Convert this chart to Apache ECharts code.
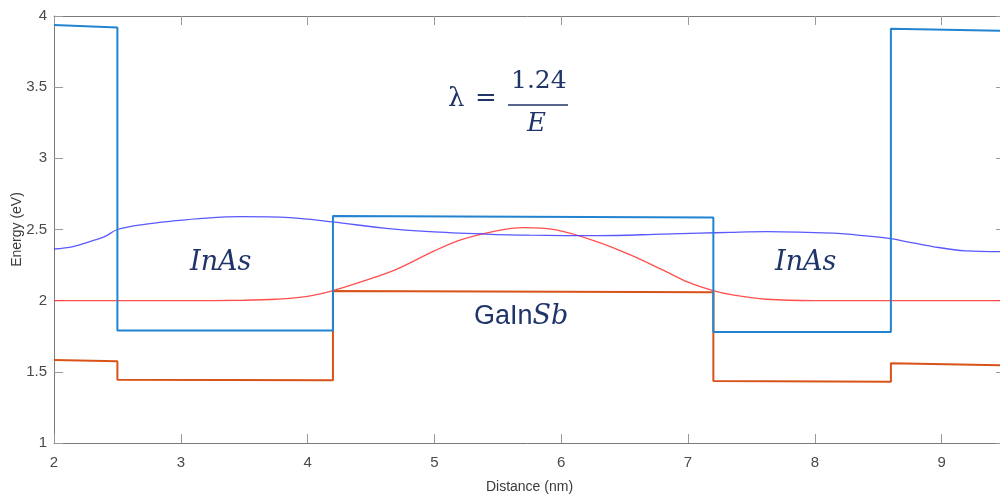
<!DOCTYPE html>
<html lang="en">
<head>
    <meta charset="UTF-8">
    <title>Band diagram</title>
    <style>
        * {
            margin: 0;
            padding: 0;
            box-sizing: border-box;
        }

        html, body {
            width: 1000px;
            height: 500px;
            background: #ffffff;
            overflow: hidden;
        }

        #chart {
            width: 1000px;
            height: 500px;
        }
    </style>
    <script type="text/javascript" src="https://cdn.jsdelivr.net/npm/echarts@6/dist/echarts.min.js"></script>
</head>
<body>
<div id="chart"></div>
<script type="text/javascript">
    // conduction band edge (blue step line)
    var cbX = [2, 2.5, 2.5, 4.2, 4.2, 7.2, 7.2, 8.6, 8.6, 9.5]
    var cbY = [3.937, 3.92, 1.79, 1.79, 2.595, 2.585, 1.78, 1.78, 3.91, 3.895]

    // valence band edge (orange step line)
    var vbX = [2, 2.5, 2.5, 4.2, 4.2, 7.2, 7.2, 8.6, 8.6, 9.5]
    var vbY = [1.583, 1.575, 1.445, 1.44, 2.068, 2.06, 1.435, 1.43, 1.56, 1.545]

    // hole state (red)
    var holeX = [2, 3, 3.5, 3.75, 4, 4.2, 4.45, 4.7, 5, 5.22, 5.49, 5.7, 5.96, 6.28, 6.55, 6.8, 7, 7.2, 7.35, 7.62, 8, 9.5]
    var holeY = [2, 2, 2.003, 2.01, 2.03, 2.07, 2.14, 2.22, 2.35, 2.43, 2.49, 2.513, 2.497, 2.415, 2.32, 2.216, 2.13, 2.07, 2.04, 2.01, 2, 2]

    // electron state (purple)
    var elecX = [2, 2.15, 2.3, 2.4, 2.5, 2.7, 2.94, 3.2, 3.47, 3.86, 4.2, 4.6, 4.96, 5.4, 5.75, 6.28, 6.8, 7.09, 7.33, 7.62, 8.14, 8.4, 8.61, 8.75, 8.93, 9.19, 9.5]
    var elecY = [2.363, 2.38, 2.42, 2.45, 2.5, 2.535, 2.56, 2.58, 2.59, 2.583, 2.553, 2.51, 2.485, 2.468, 2.46, 2.457, 2.467, 2.474, 2.48, 2.485, 2.474, 2.455, 2.434, 2.41, 2.38, 2.35, 2.344]

    var xTicks = [2, 3, 4, 5, 6, 7, 8, 9]

    function pairs(xs, ys) {
        var out = []
        xs.forEach(function (_x, i) {
            out.push([_x, ys[i]])
        })
        return out
    }

    var axisFont = '"Liberation Sans Narrow", "Liberation Sans", Arial, sans-serif'
    var navy = '#1f3468'

    var tickStyle = {
        show: true,
        inside: true,
        length: 9,
        lineStyle: {color: '#9a9a9a', width: 1}
    }

    var myChart = echarts.init(document.getElementById('chart'), null, {renderer: 'canvas'})
    var option = {
        animation: false,
        backgroundColor: '#ffffff',
        grid: {
            left: 54,
            top: 16,
            width: 951,
            height: 427,
            containLabel: false,
            outerBoundsMode: 'none'
        },
        xAxis: [
            {
                type: 'value',
                position: 'bottom',
                min: 2,
                max: 9.5,
                interval: 1,
                name: 'Distance (nm)',
                nameLocation: 'middle',
                nameGap: 37,
                nameMoveOverlap: false,
                nameTextStyle: {color: '#3a3a3a', fontSize: 14, fontFamily: axisFont},
                axisLine: {show: true, onZero: false, lineStyle: {color: '#7a7a7a', width: 1}},
                axisTick: tickStyle,
                splitLine: {show: false},
                axisLabel: {
                    color: '#4a4a4a',
                    fontSize: 15,
                    fontFamily: axisFont,
                    margin: 12,
                    showMaxLabel: false,
                    formatter: function (v) {
                        return xTicks.indexOf(v) >= 0 ? String(v) : ''
                    }
                }
            },
            {
                type: 'value',
                position: 'top',
                min: 2,
                max: 9.5,
                interval: 1,
                axisLine: {show: true, onZero: false, lineStyle: {color: '#7a7a7a', width: 1}},
                axisTick: tickStyle,
                splitLine: {show: false},
                axisLabel: {show: false}
            }
        ],
        yAxis: [
            {
                type: 'value',
                position: 'left',
                min: 1,
                max: 4,
                interval: 0.5,
                name: 'Energy (eV)',
                nameLocation: 'middle',
                nameGap: 30,
                nameMoveOverlap: false,
                nameTextStyle: {color: '#3a3a3a', fontSize: 14, fontFamily: axisFont},
                axisLine: {show: true, onZero: false, lineStyle: {color: '#7a7a7a', width: 1}},
                axisTick: tickStyle,
                splitLine: {show: false},
                axisLabel: {color: '#4a4a4a', fontSize: 15, fontFamily: axisFont, margin: 7}
            },
            {
                type: 'value',
                position: 'right',
                min: 1,
                max: 4,
                interval: 0.5,
                axisLine: {show: true, onZero: false, lineStyle: {color: '#7a7a7a', width: 1}},
                axisTick: tickStyle,
                splitLine: {show: false},
                axisLabel: {show: false}
            }
        ],
        series: [
            {
                name: 'hole',
                type: 'line',
                data: pairs(holeX, holeY),
                showSymbol: false,
                smooth: 0.35,
                lineStyle: {color: '#ff3030', width: 1.3, opacity: 0.85},
                z: 2
            },
            {
                name: 'electron',
                type: 'line',
                data: pairs(elecX, elecY),
                showSymbol: false,
                smooth: 0.35,
                lineStyle: {color: '#3c3cff', width: 1.3, opacity: 0.85},
                z: 2
            },
            {
                name: 'valence band',
                type: 'line',
                data: pairs(vbX, vbY),
                showSymbol: false,
                lineStyle: {color: '#d95319', width: 2},
                z: 3
            },
            {
                name: 'conduction band',
                type: 'line',
                data: pairs(cbX, cbY),
                showSymbol: false,
                lineStyle: {color: '#2283d0', width: 2},
                z: 4
            }
        ],
        graphic: [
            {
                type: 'text',
                left: 190,
                top: 249,
                style: {
                    text: 'InAs',
                    fill: navy,
                    font: 'italic 27px "DejaVu Serif", serif'
                }
            },
            {
                type: 'text',
                left: 775,
                top: 249,
                style: {
                    text: 'InAs',
                    fill: navy,
                    font: 'italic 27px "DejaVu Serif", serif'
                }
            },
            {
                type: 'text',
                left: 474,
                top: 303,
                style: {
                    text: '{a|GaIn}{b|Sb}',
                    rich: {
                        a: {fill: navy, fontSize: 27, fontFamily: '"Liberation Sans", Arial, sans-serif'},
                        b: {fill: navy, fontSize: 27, fontStyle: 'italic', fontFamily: '"DejaVu Serif", serif'}
                    }
                }
            },
            {
                type: 'text',
                left: 448,
                top: 86,
                style: {text: 'λ', fill: navy, font: '26px "DejaVu Serif", serif'}
            },
            {
                type: 'text',
                left: 475,
                top: 86,
                style: {text: '=', fill: navy, font: '26px "DejaVu Serif", serif'}
            },
            {
                type: 'text',
                left: 511,
                top: 69,
                style: {text: '1.24', fill: navy, font: '25px "DejaVu Serif", serif'}
            },
            {
                type: 'line',
                shape: {x1: 508, y1: 105, x2: 568, y2: 105},
                style: {stroke: navy, lineWidth: 1.5}
            },
            {
                type: 'text',
                left: 527,
                top: 111,
                style: {text: 'E', fill: navy, font: 'italic 26px "DejaVu Serif", serif'}
            }
        ]
    }
    myChart.setOption(option)
</script>
</body>
</html>
